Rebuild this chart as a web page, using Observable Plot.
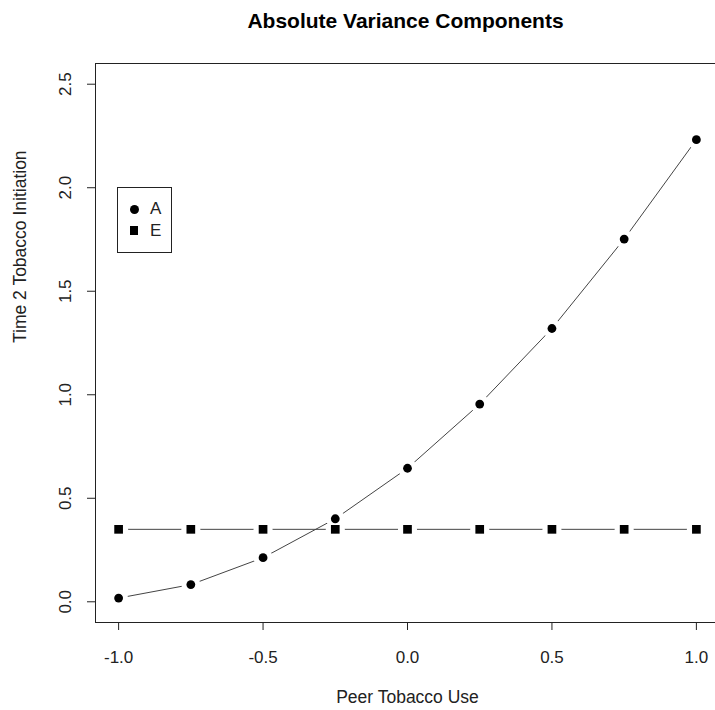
<!DOCTYPE html>
<html>
<head>
<meta charset="utf-8">
<script src="https://cdn.jsdelivr.net/npm/d3@7"></script>
<script src="https://cdn.jsdelivr.net/npm/@observablehq/plot@0.6"></script>
<style>
  html, body { margin: 0; padding: 0; background: #fff; overflow: hidden; }
  #wrap { position: relative; width: 715px; height: 710px; overflow: hidden; font-family: "Liberation Sans", Arial, sans-serif; }
  #wrap svg { max-width: none !important; width: 720px !important; height: 710px !important; display: block; }
  #legend { position: absolute; left: 117px; top: 187px; width: 53px; height: 64px; border: 1px solid #222; background: #fff; }
  .lg-row { position: absolute; left: 0; height: 20px; width: 53px; }
  .lg-sym { position: absolute; background: #000; }
  .lg-txt { position: absolute; left: 32px; top: 0; font-size: 17px; line-height: 20px; color: #222; }
</style>
</head>
<body>
<div id="wrap"></div>
<script>
// ---- data ----
const peerUse = [-1.0, -0.75, -0.5, -0.25, 0.0, 0.25, 0.5, 0.75, 1.0];
const varA = [0.018, 0.083, 0.213, 0.401, 0.645, 0.955, 1.320, 1.752, 2.232];
const varE = [0.350, 0.350, 0.350, 0.350, 0.350, 0.350, 0.350, 0.350, 0.350];
const xTicks = [-1.0, -0.5, 0.0, 0.5, 1.0];
const yTicks = [0.0, 0.5, 1.0, 1.5, 2.0, 2.5];
const legendLabels = ["A", "E"];
const titleText = "Absolute Variance Components";
const xLabel = "Peer Tobacco Use";
const yLabel = "Time 2 Tobacco Initiation";

const dataA = peerUse.map((x, i) => ({x, y: varA[i]}));
const dataE = peerUse.map((x, i) => ({x, y: varE[i]}));

const ink = "#222";
const lineInk = "#444";
const font = "Liberation Sans, Arial, sans-serif";

const chart = Plot.plot({
  width: 720,
  height: 710,
  marginLeft: 95,
  marginRight: 1,
  marginTop: 63,
  marginBottom: 88,
  style: {fontFamily: font, background: "#fff", color: ink, overflow: "visible"},
  x: {domain: [-1.08, 1.08]},
  y: {domain: [-0.1, 2.6]},
  marks: [
    Plot.frame({stroke: ink, strokeWidth: 1}),
    Plot.axisX({ticks: xTicks, tickFormat: d => d.toFixed(1), tickSize: 8, tickPadding: 20, fontSize: 17, label: null, stroke: ink, fill: ink}),
    Plot.axisY({ticks: yTicks, tickFormat: d => d.toFixed(1), tickSize: 8, tickPadding: 17, tickRotate: -90, fontSize: 17, label: null, stroke: ink, fill: ink}),
    // E series (type "b": line with gaps around points)
    Plot.line(dataE, {x: "x", y: "y", stroke: lineInk, strokeWidth: 1}),
    Plot.dot(dataE, {x: "x", y: "y", r: 9.5, fill: "#fff", stroke: null}),
    // A series
    Plot.line(dataA, {x: "x", y: "y", stroke: lineInk, strokeWidth: 1}),
    Plot.dot(dataA, {x: "x", y: "y", r: 9.5, fill: "#fff", stroke: null}),
    Plot.dot(dataE, {x: "x", y: "y", symbol: "square", r: 4.9, fill: "#000", stroke: null}),
    Plot.dot(dataA, {x: "x", y: "y", symbol: "circle", r: 4.4, fill: "#000", stroke: null}),
    // texts
    Plot.text([titleText], {frameAnchor: "top", dy: -36, lineAnchor: "bottom", fontSize: 21, fontWeight: "bold", fill: "#000", dx: -2}),
    Plot.text([xLabel], {frameAnchor: "bottom", dy: 80, fontSize: 17.5, fill: ink}),
    Plot.text([yLabel], {frameAnchor: "left", dx: -75, rotate: -90, fontSize: 17.5, fill: ink})
  ]
});

const wrap = document.getElementById("wrap");
wrap.appendChild(chart);

// legend (R-style boxed legend)
const legend = document.createElement("div");
legend.id = "legend";
const syms = [
  {w: 9, h: 9, radius: "50%"},
  {w: 8, h: 9, radius: "0"}
];
legendLabels.forEach((lab, i) => {
  const row = document.createElement("div");
  row.className = "lg-row";
  row.style.top = (11 + i * 21.5) + "px";
  const s = document.createElement("span");
  s.className = "lg-sym";
  s.style.width = syms[i].w + "px";
  s.style.height = syms[i].h + "px";
  s.style.borderRadius = syms[i].radius;
  s.style.left = (16 - syms[i].w / 2) + "px";
  s.style.top = (10 - syms[i].h / 2) + "px";
  const t = document.createElement("span");
  t.className = "lg-txt";
  t.textContent = lab;
  row.appendChild(s);
  row.appendChild(t);
  legend.appendChild(row);
});
wrap.appendChild(legend);
</script>
</body>
</html>
